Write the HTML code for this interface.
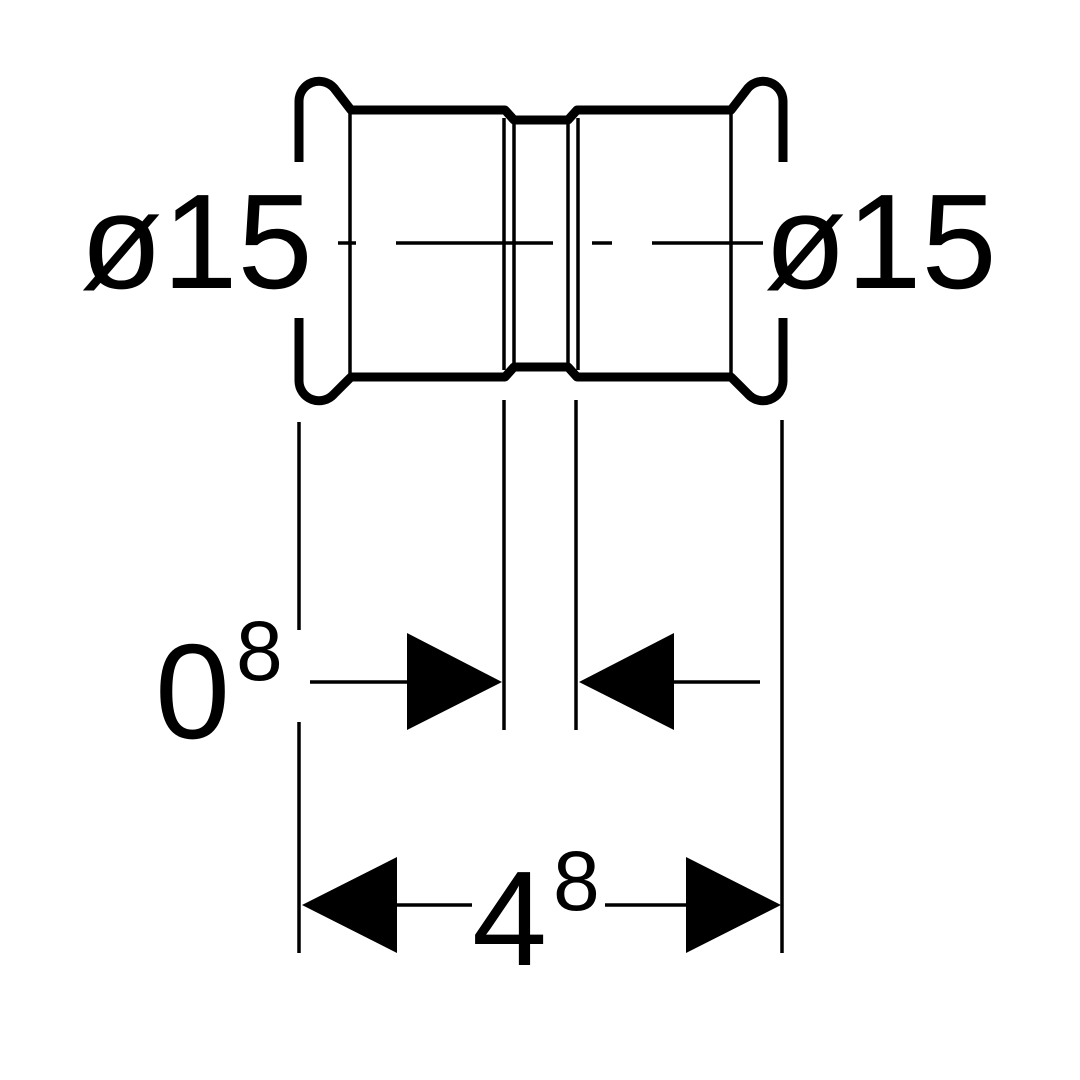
<html><body style="margin:0;background:#fff">
<svg width="1080" height="1080" viewBox="0 0 1080 1080" xmlns="http://www.w3.org/2000/svg">
<g fill="none" stroke="#000" stroke-width="9" stroke-linejoin="round">
<path d="M299,162 V101 A20,20 0 0 1 334,88 L351,110 L505,110 L514,120 L568,120 L577,110 L731,110 L748,88 A20,20 0 0 1 783,101 V162"/>
<path d="M299,318 V381 A20,20 0 0 0 334,394 L351,377 L505,377 L514,367 L568,367 L577,377 L731,377 L748,394 A20,20 0 0 0 783,381 V318"/>
</g>
<g stroke="#000" stroke-width="3.5" fill="none">
<path d="M350,113 V374 M731,113 V374 M504,118 V370 M514,120 V366 M568,120 V366 M578,118 V370"/>
<path d="M338,243 H356 M396,243 H553 M592,243 H612 M652,243 H763"/>
<path d="M299,422 V630 M299,722 V953 M504,400 V730 M576,400 V730 M782,420 V953"/>
<path d="M310,682 H410 M674,682 H760 M397,905 H472 M605,905 H686"/>
</g>
<g fill="#000">
<polygon points="407,633 502,682 407,730"/>
<polygon points="674,633 579,682 674,730"/>
<polygon points="302,905 397,857 397,953"/>
<polygon points="686,857 781,905 686,953"/>
</g>
<g font-family="Liberation Sans, sans-serif" fill="#000">
<text x="80" y="288" font-size="135">ø15</text>
<text x="764" y="288" font-size="135">ø15</text>
<text x="155" y="738" font-size="135">0</text>
<text x="236" y="680" font-size="84">8</text>
<text x="472" y="965" font-size="135">4</text>
<text x="553" y="910" font-size="84">8</text>
</g>
</svg>
</body></html>
